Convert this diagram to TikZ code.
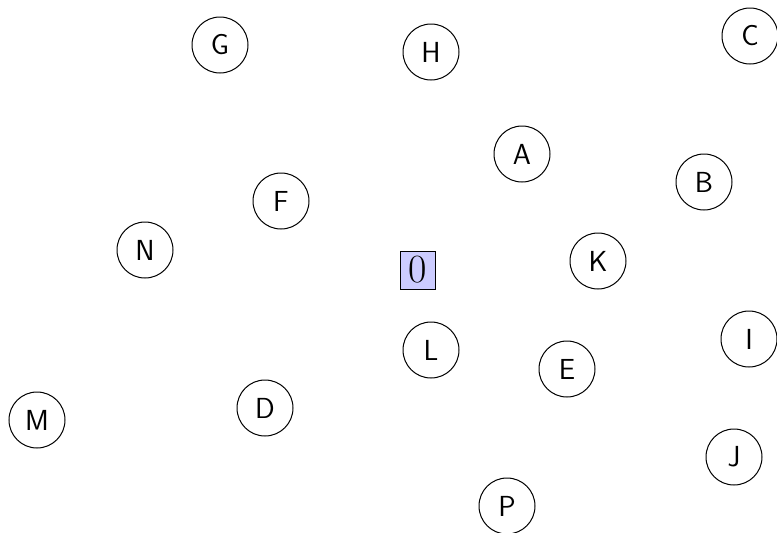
\documentclass[tikz,border=0pt]{standalone}
\usepackage{fontspec}
\usepackage{tikz}
\usetikzlibrary{backgrounds}

\begin{document}
\begin{tikzpicture}[x=1pt,y=-1pt,
    vertex/.style={draw,circle,line width=1pt,minimum size=56pt,inner sep=0pt,
      font=\fontsize{29}{34}\selectfont\sffamily},
    root/.style={draw,rectangle,fill=blue!20,line width=0.8pt,minimum width=35pt,
      minimum height=38pt,inner sep=0pt,font=\rmfamily\fontsize{40}{46}\selectfont}]
	\useasboundingbox (0,0) rectangle (777,533);
	\clip (0,0) rectangle (777,533);
    \node[root] (zero) at (418,270) {0};
    \node[vertex] (A) at (522,154) {A};
    \node[vertex] (B) at (704,182) {B};
    \node[vertex] (C) at (750,36) {C};
    \node[vertex] (D) at (265,408) {D};
    \node[vertex] (E) at (567,369) {E};
    \node[vertex] (F) at (281,201) {F};
    \node[vertex] (G) at (220,45) {G};
    \node[vertex] (H) at (431,52) {H};
    \node[vertex] (I) at (749,339) {I};
    \node[vertex] (J) at (734,457) {J};
    \node[vertex] (K) at (598,261) {K};
    \node[vertex] (L) at (431,350) {L};
    \node[vertex] (M) at (37,420) {M};
    \node[vertex] (N) at (145,250) {N};
    \node[vertex] (P) at (507,506) {P};
\end{tikzpicture}
\end{document}
